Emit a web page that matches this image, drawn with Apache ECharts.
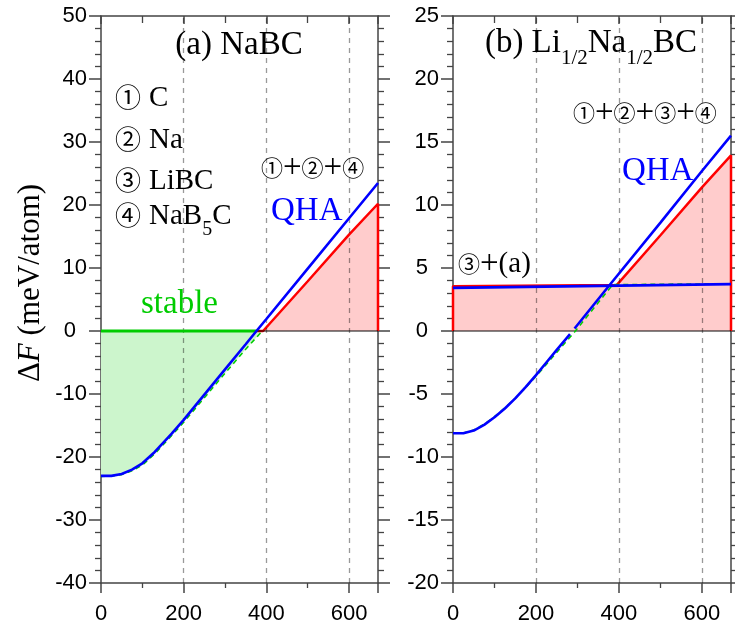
<!DOCTYPE html>
<html>
<head>
<meta charset="utf-8">
<script src="https://cdn.jsdelivr.net/npm/echarts@6/dist/echarts.min.js"></script>
<style>
html,body{margin:0;padding:0;background:#fff;}
#chart{width:735px;height:635px;}
</style>
</head>
<body>
<div id="chart"></div>
<script>
// ---------- Data: panel (a) NaBC ----------
const aQhaT   = [0, 25, 50, 75, 100, 130, 171, 200, 250, 300, 350, 376, 400, 500, 600, 670];
const aQhaF   = [-23.0, -23.0, -22.7, -22.0, -21.0, -19.2, -16.3, -14.1, -10.1, -6.1, -2.1, 0.0, 1.9, 9.9, 17.9, 23.5];
const aDashT  = [0, 25, 50, 75, 100, 130, 171, 200, 250, 300, 350, 390];
const aDashF  = [-23.1, -23.0, -22.8, -22.2, -21.3, -19.5, -16.6, -14.5, -10.6, -6.7, -2.9, 0.0];
const aRedT   = [376, 392, 500, 600, 670, 670];
const aRedF   = [0, 0, 7.9, 15.3, 20.2, 0];
const aStableT = [0, 376];
const aStableF = [0, 0];

// ---------- Data: panel (b) Li1/2Na1/2BC ----------
const bQhaLowT  = [0, 25, 50, 75, 100, 125, 150, 175, 200, 225, 250, 282];
const bQhaLowF  = [-8.12, -8.12, -7.9, -7.45, -6.85, -6.15, -5.35, -4.45, -3.5, -2.5, -1.5, -0.25];
const bQhaHighT = [293, 378, 500, 600, 670];
const bQhaHighF = [0.2, 3.67, 8.6, 12.7, 15.5];
const bFlatT    = [0, 670];
const bFlatF    = [3.42, 3.72];
const bRedT     = [0, 0, 395, 500, 600, 670, 670];
const bRedF     = [0, 3.56, 3.66, 7.6, 11.4, 13.94, 0];
const bDashT    = [0, 25, 50, 75, 100, 125, 150, 175, 200, 225, 250, 295, 385, 670];
const bDashF    = [-8.1, -8.1, -7.85, -7.4, -6.8, -6.1, -5.35, -4.5, -3.6, -2.65, -1.7, 0.0, 3.68, 3.76];

// ---------- Axes ----------
const xRange  = [0, 670];
const xStep   = 200;
const aYRange = [-40, 50];
const aYStep  = 10;
const bYRange = [-20, 25];
const bYStep  = 5;
const gridT   = [200, 400, 600];

const zip = (t, f) => t.map((x, i) => [x, f[i]]);

const AX = '#444';
const SERIF = 'Liberation Serif';
const SANS = 'Liberation Sans';
const CIRC = 'Noto Sans CJK JP';

function yLabelFmt(v) {
  return Math.abs(v) < 10 ? v + '\u2002' : String(v);
}

function xAx(grid, pos) {
  const bottom = pos === 'bottom';
  return {
    type: 'value', gridIndex: grid, position: pos,
    min: xRange[0], max: xRange[1], interval: xStep,
    axisLine: { show: true, onZero: false, lineStyle: { color: AX, width: 1.5 } },
    axisTick: { show: true, inside: !bottom, length: bottom ? 10 : 8, lineStyle: { color: AX, width: 1.5 } },
    minorTick: { show: true, splitNumber: 2, length: bottom ? 5 : 7, lineStyle: { color: AX, width: 1.3 } },
    axisLabel: { show: bottom, margin: 20, color: '#000', fontFamily: SANS, fontSize: 22 },
    splitLine: { show: false }
  };
}
function yAx(grid, pos, range, step) {
  const left = pos === 'left';
  return {
    type: 'value', gridIndex: grid, position: pos,
    min: range[0], max: range[1], interval: step,
    axisLine: { show: true, onZero: false, lineStyle: { color: AX, width: 1.5 } },
    axisTick: { show: true, inside: false, length: 12, lineStyle: { color: AX, width: 1.5 } },
    minorTick: { show: true, splitNumber: 5, length: 6, lineStyle: { color: AX, width: 1.3 } },
    axisLabel: { show: left, margin: 14, color: '#000', fontFamily: SANS, fontSize: 22, formatter: yLabelFmt },
    splitLine: { show: false }
  };
}

function lineS(xi, yi, data, color, width, z, extra) {
  return Object.assign({
    type: 'line', xAxisIndex: xi, yAxisIndex: yi, data: data,
    symbol: 'none', showSymbol: false, z: z, silent: true,
    lineStyle: { color: color, width: width }
  }, extra || {});
}
function gridMarks() {
  return {
    silent: true, symbol: 'none', label: { show: false },
    lineStyle: { type: [5, 5], color: 'rgba(0,0,0,0.4)', width: 1.3 },
    data: gridT.map(v => ({ xAxis: v }))
  };
}

const PINK = '#ffcccc';
const LGREEN = '#ccf5cc';
const BLUE = '#0000ff';
const RED = '#ff0000';
const GREEN = '#00cc00';

const series = [
  // panel (a)
  lineS(0, 0, zip(aDashT, aDashF), 'rgba(0,0,0,0)', 0, 1, { areaStyle: { color: LGREEN, opacity: 1, origin: 0 } }),
  lineS(0, 0, zip(aRedT, aRedF), RED, 2.5, 2, { areaStyle: { color: PINK, opacity: 1, origin: 0 } }),
  lineS(0, 0, [[xRange[0], 0], [xRange[1], 0]], 'rgba(0,0,0,0.65)', 1.5, 3, { markLine: gridMarks() }),
  lineS(0, 0, zip(aStableT, aStableF), GREEN, 2.8, 5),
  lineS(0, 0, zip(aDashT, aDashF), GREEN, 1.5, 6, { lineStyle: { color: GREEN, width: 1.5, type: [5, 4] } }),
  lineS(0, 0, zip(aQhaT, aQhaF), BLUE, 2.6, 7),
  // panel (b)
  lineS(2, 2, zip(bRedT, bRedF), RED, 2.5, 2, { areaStyle: { color: PINK, opacity: 1, origin: 0 } }),
  lineS(2, 2, [[xRange[0], 0], [xRange[1], 0]], 'rgba(0,0,0,0.65)', 1.5, 3, { markLine: gridMarks() }),
  lineS(2, 2, zip(bDashT, bDashF), GREEN, 1.5, 6, { lineStyle: { color: GREEN, width: 1.5, type: [5, 4] } }),
  lineS(2, 2, zip(bFlatT, bFlatF), BLUE, 2.6, 7),
  lineS(2, 2, zip(bQhaLowT, bQhaLowF), BLUE, 2.6, 7),
  lineS(2, 2, zip(bQhaHighT, bQhaHighF), BLUE, 2.6, 7)
];

// rich text styles
const R = {
  m:  { fontFamily: SERIF, fontSize: 33, lineHeight: 42, verticalAlign: 'top', fill: '#000' },
  s:  { fontFamily: SERIF, fontSize: 21, lineHeight: 17, verticalAlign: 'bottom', fill: '#000' },
  lm: { fontFamily: SERIF, fontSize: 29, lineHeight: 38, verticalAlign: 'top', fill: '#000' },
  ls: { fontFamily: SERIF, fontSize: 20, lineHeight: 15, verticalAlign: 'bottom', fill: '#000' },
  lc: { fontFamily: CIRC, fontSize: 26, lineHeight: 38, verticalAlign: 'top', fill: '#000', padding: [0, 8, 0, 0] },
  c:  { fontFamily: CIRC, fontSize: 22, fill: '#000', padding: [0, 0] },
  p:  { fontFamily: SERIF, fontSize: 33, fill: '#000' },
  pa: { fontFamily: SERIF, fontSize: 29, fill: '#000' },
  i:  { fontFamily: SERIF, fontSize: 31, fontStyle: 'italic', fill: '#000' },
  n:  { fontFamily: SERIF, fontSize: 31, fill: '#000' }
};

function txt(x, y, text, align, extra) {
  return Object.assign({
    type: 'text', x: x, y: y, silent: true, z: 100,
    style: Object.assign({ text: text, textAlign: align || 'left', textVerticalAlign: 'middle', rich: R, fill: '#000',
      fontFamily: SERIF, fontSize: 33 }, (extra && extra.style) || {})
  }, extra && extra.rotation !== undefined ? { rotation: extra.rotation } : {});
}

const graphics = [
  txt(239, 50, '{m|(a) NaBC}', 'center'),
  txt(115, 103, '{lc|①}{lm|C}'),
  txt(115, 145, '{lc|②}{lm|Na}'),
  txt(115, 186, '{lc|③}{lm|LiBC}'),
  txt(115, 221, '{lc|④}{lm|NaB}{ls|5}{lm|C}'),
  txt(261, 168, '{c|①}{p|+}{c|②}{p|+}{c|④}'),
  txt(271, 211, 'QHA', 'left', { style: { fill: BLUE, fontSize: 33 } }),
  txt(141, 304, 'stable', 'left', { style: { fill: GREEN, fontSize: 33 } }),
  txt(591, 48, '{m|(b) Li}{s|1/2}{m|Na}{s|1/2}{m|BC}', 'center'),
  txt(573, 113, '{c|①}{p|+}{c|②}{p|+}{c|③}{p|+}{c|④}'),
  txt(622, 171, 'QHA', 'left', { style: { fill: BLUE, fontSize: 33 } }),
  txt(458, 264, '{c|③}{p|+}{pa|(a)}'),
  txt(31, 283, '{n|Δ}{i|F}{n| (meV/atom)}', 'center', { rotation: Math.PI / 2 })
];

const chart = echarts.init(document.getElementById('chart'), null, { renderer: 'canvas' });
chart.setOption({
  animation: false,
  backgroundColor: '#fff',
  grid: [
    { left: 101, top: 16, width: 277, height: 567 },
    { left: 453, top: 16, width: 278, height: 567 }
  ],
  xAxis: [xAx(0, 'bottom'), xAx(0, 'top'), xAx(1, 'bottom'), xAx(1, 'top')],
  yAxis: [
    yAx(0, 'left', aYRange, aYStep), yAx(0, 'right', aYRange, aYStep),
    yAx(1, 'left', bYRange, bYStep), yAx(1, 'right', bYRange, bYStep)
  ],
  series: series,
  graphic: graphics
});
</script>
</body>
</html>
